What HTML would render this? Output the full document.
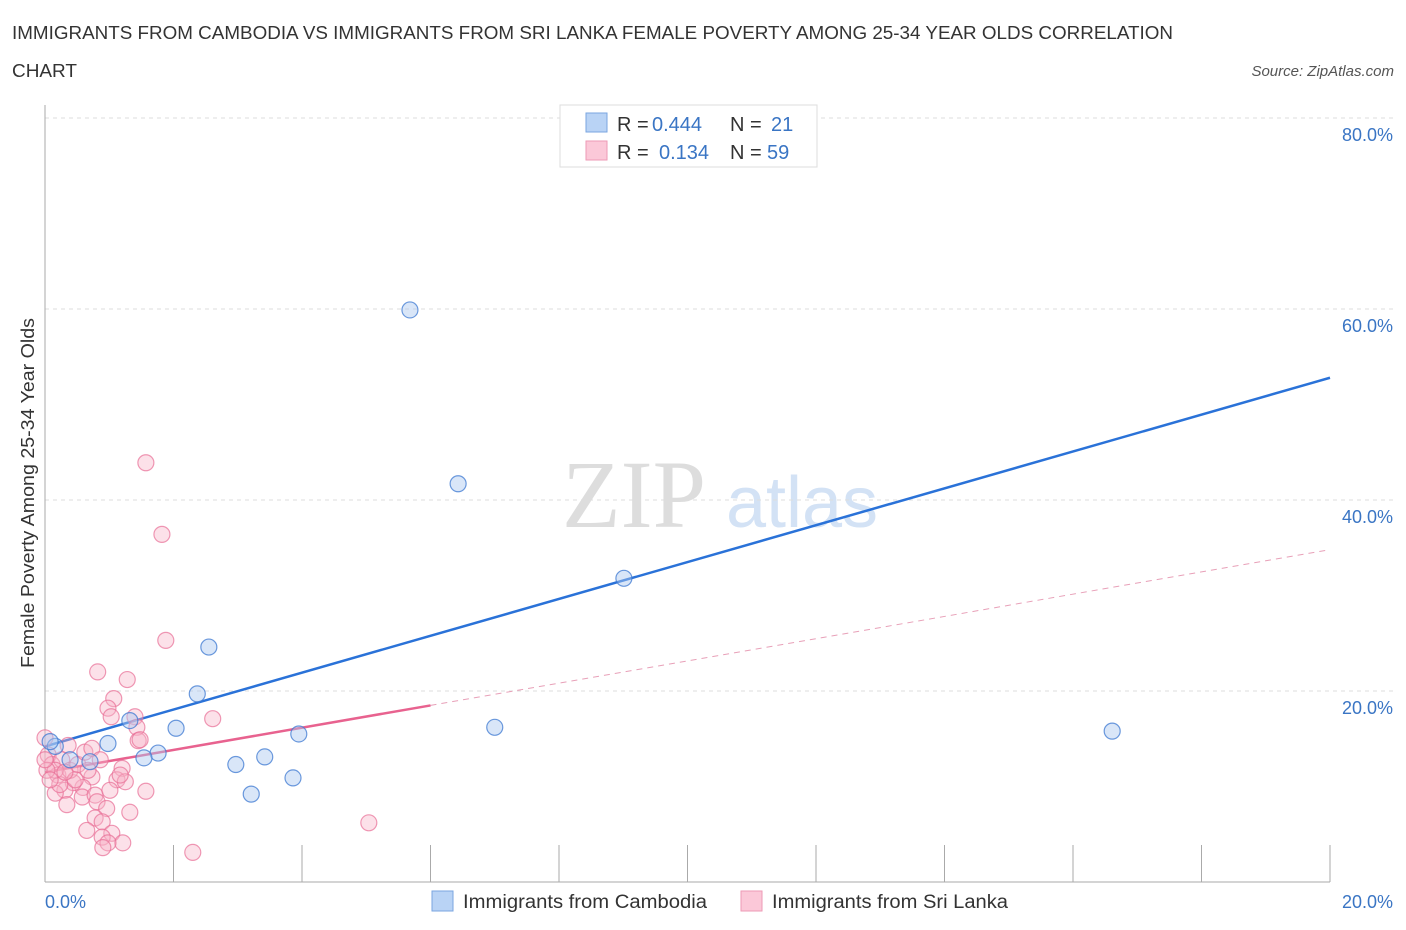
<!DOCTYPE html>
<html><head><meta charset="utf-8"><style>
body{margin:0;background:#fff;font-family:"Liberation Sans",sans-serif;}
svg{display:block}
</style></head><body>
<svg id="chart" width="1406" height="930">
<text x="12" y="39" font-size="18" fill="#333" textLength="1161" lengthAdjust="spacingAndGlyphs">IMMIGRANTS FROM CAMBODIA VS IMMIGRANTS FROM SRI LANKA FEMALE POVERTY AMONG 25-34 YEAR OLDS CORRELATION</text>
<text x="12" y="77" font-size="18" fill="#333" textLength="65" lengthAdjust="spacingAndGlyphs">CHART</text>
<text x="1394" y="76" font-size="15" font-style="italic" fill="#555" text-anchor="end">Source: ZipAtlas.com</text>
<text x="634" y="527" font-size="96" font-family="Liberation Serif,serif" fill="#ddd" text-anchor="middle">ZIP</text>
<text x="802" y="527" font-size="72" fill="#d3e2f5" text-anchor="middle">atlas</text>
<g id="grid"></g><g id="axes"></g><g id="lines"></g><g id="pts"></g>
<text transform="translate(34,493) rotate(-90)" font-size="18" fill="#333" text-anchor="middle" textLength="350" lengthAdjust="spacingAndGlyphs">Female Poverty Among 25-34 Year Olds</text>
<text x="45" y="908" font-size="18" fill="#3a75c4">0.0%</text>
<text x="1393" y="908" font-size="18" fill="#3a75c4" text-anchor="end">20.0%</text>
<g>
<rect x="560" y="105" width="257" height="62" fill="#fff" stroke="#ddd"/>
<rect x="586" y="113" width="21" height="19" fill="#b9d3f5" stroke="#7aa6e0"/>
<rect x="586" y="141" width="21" height="19" fill="#fbc8d8" stroke="#ee9ab6"/>
<text x="617" y="131" font-size="20" fill="#333">R = <tspan fill="#3a75c4" x="652">0.444</tspan><tspan x="730">N = </tspan><tspan fill="#3a75c4" x="771">21</tspan></text>
<text x="617" y="159" font-size="20" fill="#333">R = <tspan fill="#3a75c4" x="659">0.134</tspan><tspan x="730">N = </tspan><tspan fill="#3a75c4" x="767">59</tspan></text>
</g>
<g>
<rect x="432" y="891" width="21" height="20" fill="#b9d3f5" stroke="#7aa6e0"/>
<text x="463" y="908" font-size="19" fill="#333" textLength="244" lengthAdjust="spacingAndGlyphs">Immigrants from Cambodia</text>
<rect x="741" y="891" width="21" height="20" fill="#fbc8d8" stroke="#ee9ab6"/>
<text x="772" y="908" font-size="19" fill="#333" textLength="236" lengthAdjust="spacingAndGlyphs">Immigrants from Sri Lanka</text>
</g>
</svg>
<script>
const yTicks=[20,40,60,80];
const yTickLabels=["20.0%","40.0%","60.0%","80.0%"];
const xTicks=[0,2,4,6,8,10,12,14,16,18,20];
const cambodiaX=[5.68,6.43,9.01,2.55,2.37,1.32,2.04,3.95,0.98,1.76,1.54,3.42,2.97,3.86,3.21,7.00,16.61,0.16,0.08,0.70,0.39];
const cambodiaY=[59.9,41.7,31.8,24.6,19.7,16.9,16.1,15.5,14.5,13.5,13.0,13.1,12.3,10.9,9.2,16.2,15.8,14.2,14.7,12.6,12.8];
const lankaX=[1.88,0.82,1.28,1.07,0.98,1.03,1.40,1.43,2.61,1.45,1.20,1.12,1.25,1.57,0.73,0.59,0.44,0.31,0.16,0.58,0.78,0.81,0.34,0.96,1.32,0.78,0.65,0.89,1.04,0.89,1.21,0.98,0.90,2.30,1.57,1.82,5.04,0.0,0.05,0.11,0.20,0.26,0.39,0.51,0.62,0.73,0.23,0.16,0.47,0.86,0.36,1.48,1.17,0.03,0.31,0.67,1.01,0.08,0.0];
const lankaY=[25.3,22.0,21.2,19.2,18.2,17.3,17.3,16.2,17.1,14.8,11.9,10.7,10.5,9.5,11.0,9.9,10.4,9.6,9.3,8.9,9.1,8.4,8.1,7.7,7.3,6.7,5.4,6.3,5.1,4.7,4.1,4.1,3.6,3.1,43.9,36.4,6.2,15.1,13.3,12.3,11.2,12.8,11.7,12.3,13.6,14.0,10.2,11.7,10.7,12.8,14.3,14.9,11.2,11.7,11.5,11.7,9.6,10.7,12.8];
const cambodiaTrend=[14.2,52.8];
const lankaTrend=[11.5,34.8];
const lankaSolidEnd=6;
const X=v=>45+v/20*1285, Y=v=>882-v*9.55;
const NS="http://www.w3.org/2000/svg";
function mk(tag,attrs,parent){const e=document.createElementNS(NS,tag);for(const k in attrs)e.setAttribute(k,attrs[k]);document.getElementById(parent).appendChild(e);return e;}
yTicks.forEach((t,i)=>{
 const l=mk('line',{x1:45,x2:1393,y1:Y(t),y2:Y(t),stroke:'#ddd','stroke-dasharray':'4,4'},'grid');
 
 
 const tx=mk('text',{x:1393,y:Y(t)+23,'font-size':18,fill:'#3a75c4','text-anchor':'end'},'grid');
 tx.textContent=yTickLabels[i];
 
 
});
const ya=mk('line',{x1:45,x2:45,y1:105,y2:882,stroke:'#aaa'},'axes');


const xa=mk('line',{x1:45,x2:1330,y1:882,y2:882,stroke:'#aaa'},'axes');


xTicks.forEach(t=>{
 const l=mk('line',{x1:X(t),x2:X(t),y1:845,y2:882,stroke:'#aaa'},'axes');
 
 
});
const lt=v=>lankaTrend[0]+(lankaTrend[1]-lankaTrend[0])*v/20;
const b=mk('line',{x1:X(0),y1:Y(cambodiaTrend[0]),x2:X(20),y2:Y(cambodiaTrend[1]),stroke:'#2a72d8','stroke-width':2.5},'lines');


const p1=mk('line',{x1:X(0),y1:Y(lt(0)),x2:X(lankaSolidEnd),y2:Y(lt(lankaSolidEnd)),stroke:'#e8628f','stroke-width':2.5},'lines');


const p2=mk('line',{x1:X(lankaSolidEnd),y1:Y(lt(lankaSolidEnd)),x2:X(20),y2:Y(lt(20)),stroke:'#e8a0b8','stroke-width':1,'stroke-dasharray':'6,5'},'lines');


lankaX.forEach((x,i)=>{
 const c=mk('circle',{cx:X(x),cy:Y(lankaY[i]),r:8,fill:'rgba(248,180,200,0.4)',stroke:'rgba(232,110,150,0.7)','stroke-width':1.2},'pts');
 
 
});
cambodiaX.forEach((x,i)=>{
 const c=mk('circle',{cx:X(x),cy:Y(cambodiaY[i]),r:8,fill:'rgba(170,200,240,0.45)',stroke:'rgba(60,120,210,0.75)','stroke-width':1.2},'pts');
 
 
});
</script>
</body></html>
